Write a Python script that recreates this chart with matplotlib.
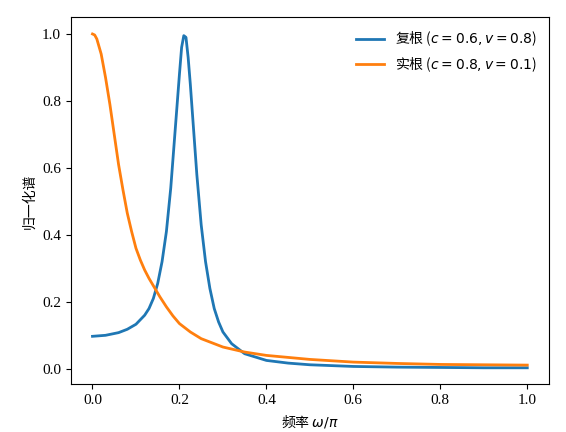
import matplotlib
matplotlib.use("Agg")
import matplotlib.pyplot as plt

plt.rcParams["font.family"] = ["Noto Sans CJK SC", "DejaVu Sans"]
plt.rcParams["mathtext.fontset"] = "dejavusans"

# values
freq_c = [0.0, 0.03, 0.06, 0.08, 0.1, 0.12, 0.13, 0.14, 0.15, 0.16, 0.17, 0.18, 0.19, 0.2,
          0.205, 0.21, 0.215, 0.22, 0.225, 0.23, 0.24, 0.25, 0.26, 0.27, 0.28, 0.29, 0.3,
          0.32, 0.35, 0.4, 0.45, 0.5, 0.6, 0.7, 0.8, 0.9, 1.0]
spec_complex = [0.097, 0.1, 0.108, 0.118, 0.133, 0.16, 0.18, 0.21, 0.255, 0.32, 0.41, 0.54,
                0.71, 0.88, 0.96, 0.995, 0.99, 0.93, 0.85, 0.76, 0.58, 0.43, 0.32, 0.24, 0.18,
                0.14, 0.11, 0.075, 0.045, 0.025, 0.017, 0.012, 0.007, 0.005, 0.004, 0.003, 0.003]

freq_r = [0.0, 0.005, 0.01, 0.02, 0.03, 0.04, 0.05, 0.06, 0.07, 0.08, 0.09, 0.1, 0.11,
          0.12, 0.13, 0.14, 0.155, 0.17, 0.185, 0.2, 0.225, 0.25, 0.3, 0.35, 0.4, 0.5,
          0.6, 0.7, 0.8, 0.9, 1.0]
spec_real = [1.0, 0.997, 0.985, 0.94, 0.87, 0.79, 0.7, 0.61, 0.535, 0.465, 0.41, 0.36, 0.325,
             0.295, 0.27, 0.248, 0.215, 0.185, 0.158, 0.135, 0.11, 0.09, 0.065, 0.05, 0.04,
             0.028, 0.02, 0.016, 0.013, 0.012, 0.011]

fig, ax = plt.subplots(figsize=(5.66, 4.32), dpi=100)
ax.plot(freq_c, spec_complex, color="#1f77b4", lw=2, label=r"复根 ($c=0.6, v=0.8$)")
ax.plot(freq_r, spec_real, color="#ff7f0e", lw=2, label=r"实根 ($c=0.8, v=0.1$)")
ax.set_xlabel(r"频率 $\omega/\pi$")
ax.set_ylabel("归一化谱")
for lbl in ax.get_xticklabels() + ax.get_yticklabels():
    lbl.set_family("Liberation Serif")
    lbl.set_fontsize(11)
ax.legend(frameon=False, loc="upper right")
fig.subplots_adjust(left=0.125, right=0.97, bottom=0.11, top=0.96)
fig.savefig("out.png")
